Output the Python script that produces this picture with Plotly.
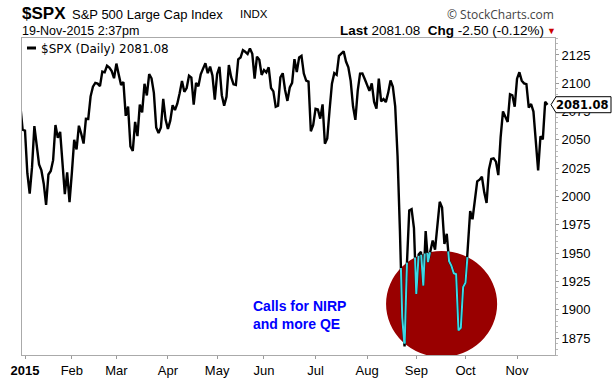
import plotly.graph_objects as go

# ---- Data: S&P 500 daily closes ----
dec2014 = [2080.35, 2058.90]
jan = [2058.20, 2020.58, 2002.61, 2025.90, 2062.14, 2044.81, 2028.26, 2023.03, 2011.27, 1992.67,
       2019.42, 2022.55, 2032.12, 2063.15, 2051.82, 2057.09, 2029.55, 2002.16, 2021.25, 1994.99]
feb = [2020.85, 2050.03, 2041.51, 2062.52, 2055.47, 2046.74, 2068.59, 2068.53, 2088.48, 2096.99,
       2100.34, 2099.68, 2097.45, 2110.30, 2109.66, 2115.48, 2113.86, 2110.74, 2104.50]
mar = [2117.39, 2107.78, 2098.53, 2101.04, 2071.26, 2079.43, 2044.16, 2040.24, 2065.95, 2053.40,
       2081.19, 2074.28, 2099.50, 2089.27, 2108.10, 2104.42, 2091.50, 2061.05, 2056.15, 2061.02,
       2086.24, 2067.89]
apr = [2059.69, 2066.96, 2080.62, 2076.33, 2081.90, 2091.18, 2102.06, 2092.43, 2095.84, 2106.63,
       2104.99, 2081.18, 2100.40, 2097.29, 2107.96, 2112.93, 2117.69, 2108.92, 2114.76, 2106.85,
       2085.51]
may = [2108.29, 2114.49, 2089.46, 2080.15, 2088.00, 2116.10, 2105.33, 2099.12, 2098.48, 2121.10,
       2122.73, 2129.20, 2127.83, 2125.85, 2130.82, 2126.06, 2104.20, 2123.48, 2120.79, 2107.39]
jun = [2111.73, 2109.60, 2114.07, 2095.84, 2092.83, 2079.28, 2080.15, 2105.20, 2108.86, 2094.11,
       2084.43, 2096.29, 2100.44, 2121.24, 2109.99, 2122.85, 2124.20, 2108.58, 2102.31, 2101.49,
       2057.64, 2063.11]
jul = [2077.42, 2076.78, 2068.76, 2081.34, 2046.68, 2051.31, 2076.62, 2099.60, 2108.95, 2107.40,
       2124.29, 2126.64, 2128.28, 2119.21, 2114.15, 2102.15, 2079.65, 2067.64, 2093.25, 2108.57,
       2108.63, 2103.84]
aug = [2098.04, 2093.32, 2099.84, 2083.56, 2077.57, 2104.18, 2084.07, 2086.05, 2083.39, 2091.54,
       2102.44, 2096.92, 2079.61, 2035.73, 1970.89, 1893.21, 1867.61, 1940.51, 1987.66, 1988.87,
       1972.18]
sep = [1913.85, 1948.86, 1951.13, 1921.22, 1969.41, 1942.04, 1952.29, 1961.05, 1953.03, 1978.09,
       1995.31, 1990.20, 1958.03, 1966.97, 1942.74, 1938.76, 1932.24, 1931.34, 1881.77, 1884.09,
       1920.03]
oct_ = [1923.82, 1951.36, 1987.05, 1979.92, 1995.83, 2013.43, 2014.89, 2017.46, 2003.69, 1994.24,
        2023.86, 2033.11, 2033.66, 2030.77, 2018.94, 2052.51, 2075.15, 2071.18, 2065.89, 2090.35,
        2089.41, 2079.36]
nov = [2104.05, 2109.79, 2102.31, 2099.93, 2099.20, 2078.58, 2081.72, 2075.00, 2045.97, 2023.04,
       2053.19, 2050.44, 2083.58, 2081.08]

months = [jan, feb, mar, apr, may, jun, jul, aug, sep, oct_, nov]
month_labels = ["<b>2015</b>", "Feb", "Mar", "Apr", "May", "Jun", "Jul", "Aug", "Sep", "Oct", "Nov"]
y_ticks = [1875, 1900, 1925, 1950, 1975, 2000, 2025, 2050, 2075, 2100, 2125]

closes = dec2014 + [v for m in months for v in m]
x_idx = list(range(-len(dec2014), len(closes) - len(dec2014)))  # trading-day index, 0 = 2-Jan-2015
month_starts = []
acc = 0
for m in months:
    month_starts.append(acc)
    acc += len(m)
last = closes[-1]

# annotation circle (data units) and clipping of line to it
cx, cy, rx, ry = 177.8, 1905.0, 23.7, 46.8


def clip_ellipse(xs, ys):
    ox, oy = [], []
    for i in range(len(xs) - 1):
        u0, v0 = (xs[i] - cx) / rx, (ys[i] - cy) / ry
        u1, v1 = (xs[i + 1] - cx) / rx, (ys[i + 1] - cy) / ry
        du, dv = u1 - u0, v1 - v0
        a = du * du + dv * dv
        b = 2 * (u0 * du + v0 * dv)
        c = u0 * u0 + v0 * v0 - 1
        disc = b * b - 4 * a * c
        if a == 0 or disc <= 0:
            continue
        s = disc ** 0.5
        t0 = max(0.0, (-b - s) / (2 * a))
        t1 = min(1.0, (-b + s) / (2 * a))
        if t1 <= t0:
            continue
        pa = (xs[i] + t0 * (xs[i + 1] - xs[i]), ys[i] + t0 * (ys[i + 1] - ys[i]))
        pb = (xs[i] + t1 * (xs[i + 1] - xs[i]), ys[i] + t1 * (ys[i + 1] - ys[i]))
        if ox and ox[-1] is not None and abs(ox[-1] - pa[0]) < 1e-9 and abs(oy[-1] - pa[1]) < 1e-9:
            ox.append(pb[0]); oy.append(pb[1])
        else:
            if ox:
                ox.append(None); oy.append(None)
            ox += [pa[0], pb[0]]; oy += [pa[1], pb[1]]
    return ox, oy


cyx, cyy = clip_ellipse(x_idx, closes)

# ---- geometry helpers (pixel -> paper) ----
L, R, T, B = 22, 555, 38, 355
W, H = 612, 378


def px(x):
    return (x - L) / (R - L)


def py(y):
    return (B - y) / (B - T)


fig = go.Figure()
fig.add_trace(go.Scatter(x=x_idx, y=closes, mode="lines",
                         line=dict(color="black", width=2.4), hoverinfo="skip", showlegend=False))
fig.add_trace(go.Scatter(x=cyx, y=cyy, mode="lines",
                         line=dict(color="#3dd8e4", width=2), hoverinfo="skip", showlegend=False))

shapes = [
    dict(type="circle", xref="x", yref="y", x0=cx - rx, x1=cx + rx, y0=cy - ry, y1=cy + ry,
         fillcolor="#990000", line=dict(width=0), layer="below"),
    # legend swatch
    dict(type="line", xref="paper", yref="paper", x0=px(27), x1=px(36), y0=py(48), y1=py(48),
         line=dict(color="black", width=3)),
    # last value tag
    dict(type="path", xref="paper", yref="paper", xsizemode="pixel", ysizemode="pixel",
         xanchor=px(551), yanchor=(last - 1860) / 280,
         path="M0,0 L5,-8 L60,-8 L60,8 L5,8 Z",
         fillcolor="white", line=dict(color="black", width=1), layer="above"),
]

ann = []


def add_text(text, x, y, size, family="Arial", color="black", xanchor="left", yanchor="middle", **kw):
    ann.append(dict(text=text, x=px(x), y=py(y), xref="paper", yref="paper", showarrow=False,
                    xanchor=xanchor, yanchor=yanchor, font=dict(size=size, family=family, color=color), **kw))


add_text("<b>$SPX</b>", 20, 13, 17)
add_text("S&P 500 Large Cap Index", 70, 14, 13)
add_text("INDX", 238, 14, 11.5)
add_text("19-Nov-2015 2:37pm", 20, 31, 12.5)
add_text("© StockCharts.com", 556, 14, 12, family="Open Sans", color="#444", xanchor="right")
add_text("<b>Last</b> 2081.08\u00a0 <b>Chg</b> -2.50 (-0.12%)", 546, 31, 13.5, xanchor="right")
add_text("▼", 558, 31, 9, color="#cc0000", xanchor="right")
add_text("$SPX (Daily) 2081.08", 39, 49, 12, family="DejaVu Sans")
add_text("<b>Calls for NIRP<br>and more QE</b>", 251, 315, 14, color="#0000ff", align="left")
ann.append(dict(text="<b>%.2f</b>" % last, x=px(554), y=last, xref="paper", yref="y", showarrow=False,
                xanchor="left", yanchor="middle", font=dict(size=11.5, family="DejaVu Sans", color="black")))

fig.update_layout(
    width=W, height=H,
    margin=dict(l=L, r=W - R, t=T, b=H - B, autoexpand=False),
    paper_bgcolor="white", plot_bgcolor="white",
    showlegend=False, hovermode=False,
    shapes=shapes, annotations=ann,
    xaxis=dict(range=[-1.28, 226.2], tickvals=month_starts, ticktext=month_labels, automargin=False,
               showgrid=False, zeroline=False, showline=True, mirror=True, linecolor="#aaaaaa",
               linewidth=1, ticks="outside", ticklen=3, tickcolor="#999999",
               tickfont=dict(family="Arial", size=13, color="black")),
    yaxis=dict(range=[1860, 2140], side="right", tickvals=y_ticks, automargin=False,
               showgrid=False, zeroline=False, showline=True, mirror=True, linecolor="#aaaaaa",
               linewidth=1, ticks="outside", ticklen=3, tickcolor="#999999",
               minor=dict(ticks="outside", ticklen=2, dtick=5, tickcolor="#bbbbbb"),
               tickfont=dict(family="Arial", size=13, color="black")),
)

fig.write_html("out.html", config=dict(displayModeBar=False),
               post_script="document.body.style.margin='0';document.body.style.overflow='hidden';")
